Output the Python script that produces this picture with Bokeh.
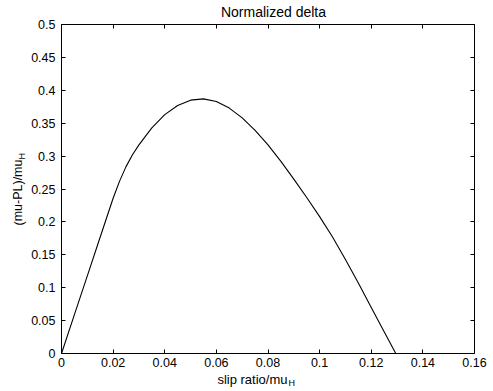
from bokeh.plotting import figure
from bokeh.models import Range1d, LinearAxis, FixedTicker, Label
from bokeh.embed import file_html
from bokeh.resources import INLINE

# ---- data ----
slip = [0, 0.005, 0.010, 0.015, 0.020, 0.0225, 0.025, 0.0275, 0.030, 0.035,
        0.040, 0.045, 0.050, 0.055, 0.060, 0.065, 0.070, 0.075, 0.080, 0.085,
        0.090, 0.095, 0.100, 0.105, 0.110, 0.115, 0.120, 0.125, 0.1295]
delta = [0, 0.059, 0.118, 0.177, 0.236, 0.262, 0.284, 0.302, 0.317, 0.343,
         0.363, 0.377, 0.385, 0.387, 0.383, 0.373, 0.358, 0.339, 0.317, 0.292,
         0.265, 0.237, 0.208, 0.177, 0.143, 0.107, 0.070, 0.033, 0.0]

x_ticks = [0, 0.02, 0.04, 0.06, 0.08, 0.10, 0.12, 0.14, 0.16]
x_tick_labels = ["0", "0.02", "0.04", "0.06", "0.08", "0.1", "0.12", "0.14", "0.16"]
y_ticks = [0, 0.05, 0.10, 0.15, 0.20, 0.25, 0.30, 0.35, 0.40, 0.45, 0.50]
y_tick_labels = ["0", "0.05", "0.1", "0.15", "0.2", "0.25", "0.3", "0.35", "0.4", "0.45", "0.5"]

title_text = "Normalized delta"
xlabel_main, xlabel_sub = "slip ratio/mu", "H"
ylabel_main, ylabel_sub = "(mu-PL)/mu", "H"

X_MIN, X_MAX = 0.0, 0.16
Y_MIN, Y_MAX = 0.0, 0.5

# ---- layout (pixels) ----
W, H = 493, 391
BOX_L, BOX_R, BOX_T, BOX_B = 61, 474, 24, 353   # axes box in canvas pixels
FONT = "Liberation Sans"

sx = (X_MAX - X_MIN) / (BOX_R - BOX_L)   # data units per pixel
sy = (Y_MAX - Y_MIN) / (BOX_B - BOX_T)

def px_x(px):
    return X_MIN + (px - BOX_L) * sx

def px_y(py):
    return Y_MIN + (BOX_B - py) * sy

p = figure(width=W, height=H, output_backend="svg", toolbar_location=None,
           x_range=Range1d(px_x(0), px_x(W)), y_range=Range1d(px_y(H), px_y(0)),
           x_axis_location=None, y_axis_location=None,
           min_border=0, min_border_left=0, min_border_right=0,
           min_border_top=0, min_border_bottom=0)
p.grid.visible = False
p.outline_line_color = None
p.background_fill_color = "white"
p.border_fill_color = "white"

x_over = {t: l for t, l in zip(x_ticks, x_tick_labels)}
y_over = {t: l for t, l in zip(y_ticks, y_tick_labels)}

def make_axis(ticks, overrides, loc, bounds, show_labels, standoff):
    ax = LinearAxis(ticker=FixedTicker(ticks=ticks, minor_ticks=[]),
                    fixed_location=loc, bounds=bounds)
    ax.major_tick_in = 4
    ax.major_tick_out = 0
    ax.minor_tick_line_color = None
    ax.axis_line_color = "black"
    ax.axis_line_width = 1
    ax.major_tick_line_color = "black"
    ax.major_label_text_font = FONT
    if show_labels:
        ax.major_label_overrides = overrides
        ax.major_label_text_color = "black"
        ax.major_label_text_font_size = "12.5px"
        ax.major_label_standoff = standoff
    else:
        ax.major_label_text_color = None
        ax.major_label_text_font_size = "0px"
        ax.major_label_standoff = 0
    return ax

p.add_layout(make_axis(x_ticks, x_over, Y_MIN, (X_MIN, X_MAX), True, 4), "below")
p.add_layout(make_axis(y_ticks, y_over, X_MIN, (Y_MIN, Y_MAX), True, 6), "left")
p.add_layout(make_axis(x_ticks, x_over, Y_MAX, (X_MIN, X_MAX), False, 0), "above")
p.add_layout(make_axis(y_ticks, y_over, X_MAX, (Y_MIN, Y_MAX), False, 0), "right")

p.line(slip, delta, line_color="black", line_width=1.1)

def add_text(x, y, text, size, align="center", angle=0.0):
    p.add_layout(Label(x=x, y=y, text=text, angle=angle, text_align=align,
                       text_baseline="middle", text_font=FONT, text_font_size=size,
                       text_color="black"))

# title
add_text(px_x(273), px_y(11), title_text, "14px")

# x label with subscript
add_text(px_x(287), px_y(379), xlabel_main, "13px", align="right")
add_text(px_x(288), px_y(382), xlabel_sub, "9px", align="left")

# y label with subscript (rotated, reading upward)
add_text(px_x(18), px_y(225), ylabel_main, "12.5px", align="left", angle=1.5708)
add_text(px_x(21), px_y(159), ylabel_sub, "9px", align="left", angle=1.5708)

open("out.html", "w").write(file_html(p, INLINE))
